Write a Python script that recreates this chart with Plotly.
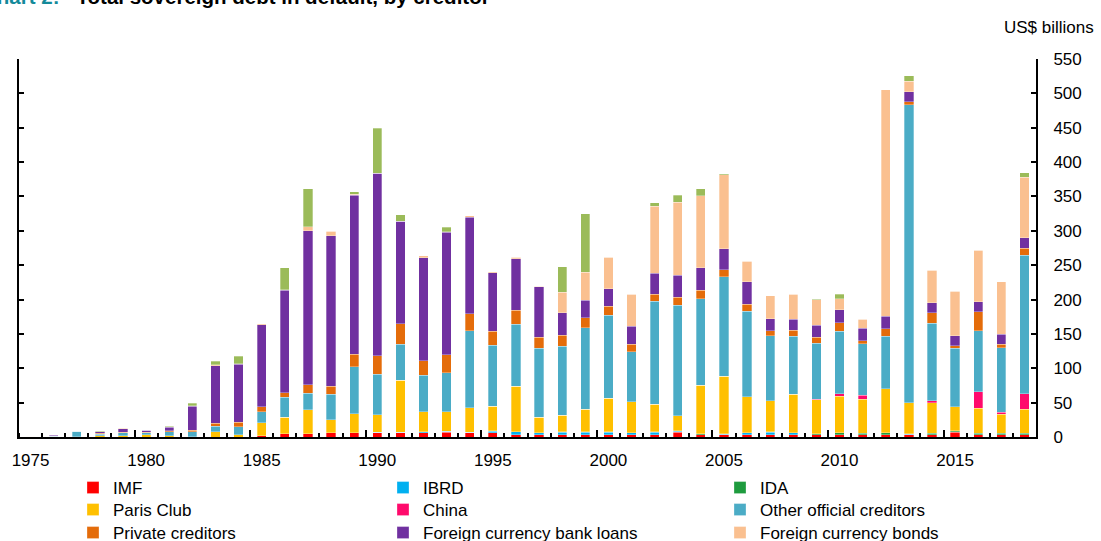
import plotly.graph_objects as go

years = list(range(1975, 2019))

imf = [0, 0, 0, 0, 0, 0, 0, 0, 0, 0,
       2, 4.5, 4.5, 6, 6, 6, 6, 6, 7, 6,
       6, 3.5, 3, 3.5, 3, 3, 3, 3.5, 7, 3,
       3, 3.5, 3.5, 3.5, 3, 3, 3, 3, 3, 3,
       7, 3, 3, 3]
ibrd = [0, 0, 0, 0, 0, 0, 0, 0, 0, 0,
        0, 0.5, 0.5, 0.5, 0.5, 1, 1, 2, 1.5, 1,
        2.5, 4, 3, 3.5, 4, 4, 3, 3.5, 1.5, 0.5,
        1, 2.5, 3.5, 2.5, 0.5, 0.5, 0.5, 0.5, 1, 0.5,
        0.5, 0.5, 0.5, 0.5]
ida = [0, 0, 0, 0, 0, 0, 0, 0, 0, 0,
       0, 0, 0, 0, 0, 0, 0, 0, 0, 0,
       0.3, 0.3, 0.3, 0.3, 0.3, 0.3, 0.3, 0.3, 0.3, 1.5,
       1, 0.5, 0.5, 0.5, 1.5, 2.5, 2, 2.5, 1, 2,
       1.5, 2, 2, 2]
paris_club = [1, 0.5, 0.5, 2, 2, 3, 2, 0.5, 8, 3,
              18.5, 23.5, 35, 18.5, 27.7, 25.7, 75.6, 28.5, 28, 35.4,
              36.3, 66, 22.8, 24.7, 33, 49.4, 45.2, 40.3, 21.8, 70,
              83.4, 51.9, 45.1, 55.8, 49.5, 53.3, 49.5, 64.1, 44.7, 44.7,
              34.8, 36, 27.7, 35]
china = [0, 0, 0, 0, 0, 0, 0, 0, 0, 0,
         0, 0, 0, 0, 0, 0, 0, 0, 0, 0,
         0, 0, 0, 0, 0, 0, 0, 0, 0, 0,
         0, 0, 0, 0, 0.5, 3.5, 5.9, 0, 0, 2.4,
         0, 24.7, 2.5, 22.2]
other_official = [0.3, 0.5, 8, 2, 4, 3, 6, 7, 8, 12,
                  16, 29, 24, 37, 68.3, 58.6, 52, 53.5, 56.8, 112,
                  88.2, 90, 100, 100.3, 118.8, 120.3, 72.7, 149.7, 161.4, 126.5,
                  145, 124.6, 94.5, 84.4, 81.5, 91.1, 75.1, 76.5, 433.4, 112.9,
                  85.4, 88.2, 93.9, 201.8]
private_creditors = [0, 0.3, 0, 1.5, 1, 1, 1, 2, 4, 6.5,
                     7.5, 7, 12, 12, 18, 27.2, 30, 20.8, 26.6, 24.6,
                     20.9, 20.4, 16.3, 15.6, 14.6, 13.5, 10.6, 10.2, 11.2, 12.1,
                     10.2, 10.2, 7.3, 8.7, 8.3, 12.6, 3.8, 11.2, 4.4, 15.6,
                     3.3, 28.2, 5.4, 10.1]
fx_bank_loans = [0, 1.5, 0, 2, 5, 2.5, 5, 35, 84, 84,
                 119, 149, 224, 219, 231, 265, 149.3, 150.2, 178, 140.7,
                 84.9, 75.5, 73.4, 33, 25.6, 25.3, 26.7, 30.6, 32, 33,
                 30.1, 32.5, 18, 16, 17.9, 18.9, 18.1, 17.9, 15, 14.6,
                 14.6, 13.9, 14.6, 15.6]
fx_bonds = [0, 0.3, 0.5, 0.5, 0.5, 0.5, 1, 1, 1, 1,
            1.5, 0.5, 6, 6.5, 2, 0, 0, 2.5, 0.5, 2,
            1.5, 1.5, 0.5, 30, 40.2, 46, 46, 97.9, 106.6, 104.3,
            108.1, 30, 32.9, 36.3, 37.3, 16, 13.5, 329.7, 15, 46.9,
            65, 75.2, 76.6, 88.1]
local_currency = [0.3, 0, 0, 0.5, 1, 0.5, 0.5, 3.5, 5, 11,
                  0, 32.5, 55, 0, 3.5, 66, 9.7, 0, 7, 0,
                  0, 0, 0, 37, 85.4, 0, 0, 4.9, 10.2, 10.6,
                  1, 0, 0, 0, 0.5, 6.3, 0, 0, 8.3, 0,
                  0, 0, 0, 6.4]

label_years = [1975, 1980, 1985, 1990, 1995, 2000, 2005, 2010, 2015]
y_ticks = list(range(0, 551, 50))

series = [
    ("IMF", imf, "#FF0000"),
    ("IBRD", ibrd, "#00B0F0"),
    ("IDA", ida, "#1E9B3E"),
    ("Paris Club", paris_club, "#FFC000"),
    ("China", china, "#FF0A6C"),
    ("Other official creditors", other_official, "#4BACC6"),
    ("Private creditors", private_creditors, "#E46C0A"),
    ("Foreign currency bank loans", fx_bank_loans, "#7030A0"),
    ("Foreign currency bonds", fx_bonds, "#FAC090"),
]

FONT = "Liberation Sans, Arial, sans-serif"
L, R, T, B = 19, 65, 59, 104
W, H = 1101, 541
pw = W - L - R
ph = H - T - B

def px_x(px):
    return (px - L) / pw

def px_y(py):
    return (H - B - py) / ph

# legend grid (pixel positions of text start / row centre)
col_text_x = [113, 423, 760]
row_centre_y = [487, 509, 532]

fig = go.Figure()
legend_layout = {}
for i, (name, vals, col) in enumerate(series):
    lg = "legend" if i == 0 else f"legend{i + 1}"
    fig.add_trace(go.Bar(x=years, y=vals, name=name, marker_color=col,
                         marker_line=dict(width=0.5, color="rgba(255,255,255,0.6)"),
                         legend=lg))
    c, r = i % 3, i // 3
    legend_layout[lg] = dict(x=px_x(col_text_x[c] - 40), y=px_y(row_centre_y[r] - 17),
                             xanchor="left", yanchor="top", orientation="v",
                             bgcolor="rgba(0,0,0,0)", font=dict(size=17),
                             itemclick=False, itemdoubleclick=False)
fig.add_trace(go.Bar(x=years, y=local_currency, name="Local currency debt",
                     marker_color="#9BBB59",
                     marker_line=dict(width=0.5, color="rgba(255,255,255,0.6)"),
                     showlegend=False))
# empty trace to carry the secondary x axis (long tick marks)
fig.add_trace(go.Scatter(x=[], y=[], xaxis="x2", showlegend=False, hoverinfo="skip"))

xr = [years[0] - 0.5, years[-1] + 0.5]
fig.update_layout(
    width=W, height=H,
    margin=dict(l=L, r=R, t=T, b=B, autoexpand=False),
    barmode="stack", bargap=0.6,
    plot_bgcolor="white", paper_bgcolor="white",
    font=dict(family=FONT, size=17, color="black"),
    xaxis=dict(range=xr, tickmode="array", tickvals=label_years,
               ticks="", showline=True, linecolor="black", linewidth=2,
               showgrid=False, zeroline=False, ticklabelstandoff=7,
               minor=dict(tickmode="array", tickvals=[y - 0.5 for y in years],
                          ticks="inside", ticklen=4, tickwidth=1.5, tickcolor="black",
                          showgrid=False)),
    xaxis2=dict(range=xr, overlaying="x", anchor="y", side="bottom",
                tickmode="array", tickvals=[y + 4.5 for y in label_years[:-1]],
                ticks="inside", ticklen=7, tickwidth=2, tickcolor="black",
                showticklabels=False, showline=False, showgrid=False, zeroline=False),
    yaxis=dict(range=[0, 550], tickmode="array", tickvals=y_ticks, side="right",
               ticks="inside", ticklen=5, tickwidth=1.5, tickcolor="black",
               showline=True, linecolor="black", linewidth=2, mirror="ticks",
               showgrid=False, zeroline=False, ticklabelstandoff=12),
    showlegend=True,
    **legend_layout,
)

fig.add_annotation(xref="paper", yref="paper", x=px_x(-20), y=px_y(10),
                   xanchor="left", yanchor="bottom", showarrow=False,
                   text="<b><span style='color:#138A9A'>Chart 2:</span>&nbsp;&nbsp; Total sovereign debt in default, by creditor</b>",
                   font=dict(size=20.5, family=FONT, color="black"))
fig.add_annotation(xref="paper", yref="paper", x=px_x(1002), y=px_y(27),
                   xanchor="left", yanchor="middle", showarrow=False,
                   text="US$ billions", font=dict(size=17, family=FONT, color="black"))

fig.write_html("out.html", config={"displayModeBar": False},
               post_script="document.body.style.margin='0';")
